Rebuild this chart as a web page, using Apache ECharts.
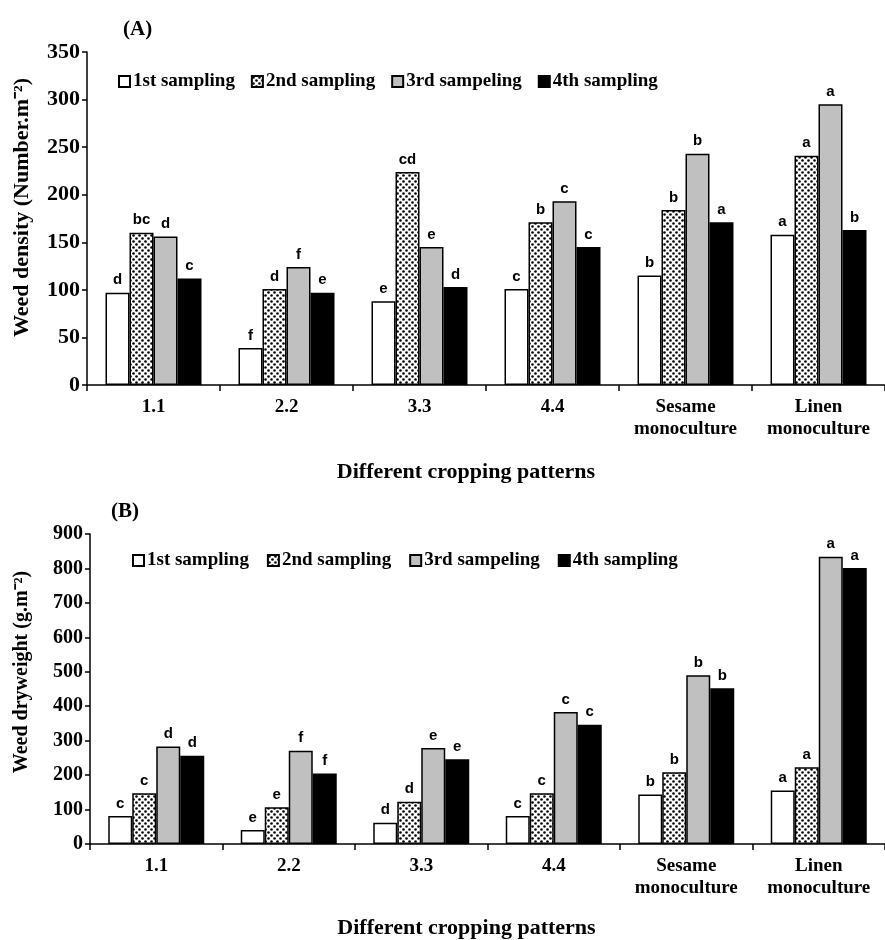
<!DOCTYPE html>
<html>
<head>
<meta charset="utf-8">
<script src="https://cdn.jsdelivr.net/npm/echarts@6/dist/echarts.min.js"></script>
<style>html,body{margin:0;padding:0;background:#fff;}#c{width:885px;height:940px;}</style>
</head>
<body>
<div id="c"></div>
<script>
const categories = ['1.1', '2.2', '3.3', '4.4', 'Sesame\nmonoculture', 'Linen\nmonoculture'];
const seriesNames = ['1st sampling', '2nd sampling', '3rd sampeling', '4th sampling'];

// (A) Weed density
const densityS1 = [97, 39, 88, 101, 115, 158];
const densityS2 = [160, 101, 224, 171, 184, 241];
const densityS3 = [156, 124, 145, 193, 243, 295];
const densityS4 = [112, 97, 103, 145, 171, 163];
const densityL1 = ['d', 'f', 'e', 'c', 'b', 'a'];
const densityL2 = ['bc', 'd', 'cd', 'b', 'b', 'a'];
const densityL3 = ['d', 'f', 'e', 'c', 'b', 'a'];
const densityL4 = ['c', 'e', 'd', 'c', 'a', 'b'];

// (B) Weed dry weight
const dryS1 = [81, 41, 62, 81, 144, 155];
const dryS2 = [147, 107, 123, 147, 208, 223];
const dryS3 = [283, 271, 279, 383, 490, 834];
const dryS4 = [256, 205, 246, 346, 452, 801];
const dryL1 = ['c', 'e', 'd', 'c', 'b', 'a'];
const dryL2 = ['c', 'e', 'd', 'c', 'b', 'a'];
const dryL3 = ['d', 'f', 'e', 'c', 'b', 'a'];
const dryL4 = ['d', 'f', 'e', 'c', 'b', 'a'];

const SERIF = "'Liberation Serif', 'Times New Roman', serif";
const SANS = "'Liberation Sans', Arial, sans-serif";

// dotted pattern for 2nd sampling
const pc = document.createElement('canvas');
pc.width = 6; pc.height = 6;
const g = pc.getContext('2d');
g.fillStyle = '#fff'; g.fillRect(0, 0, 6, 6);
g.fillStyle = '#000';
g.beginPath(); g.arc(1.5, 1.5, 1.3, 0, Math.PI * 2); g.fill();
g.beginPath(); g.arc(4.5, 4.5, 1.3, 0, Math.PI * 2); g.fill();
const dotted = { image: pc, repeat: 'repeat' };

const fills = ['#ffffff', dotted, '#c0c0c0', '#000000'];

function mkSeries(values, letters, idx, axisIdx) {
  return {
    name: seriesNames[idx],
    type: 'bar',
    xAxisIndex: axisIdx, yAxisIndex: axisIdx,
    data: values,
    barWidth: 24,
    barGap: '0%',
    itemStyle: { color: fills[idx], borderColor: '#000', borderWidth: 1.5 },
    label: {
      show: true, position: 'top', distance: 5,
      formatter: p => letters[p.dataIndex],
      fontFamily: SANS, fontWeight: 'bold', fontSize: 15, color: '#000'
    },
    emphasis: { disabled: true },
    animation: false
  };
}

const chart = echarts.init(document.getElementById('c'), null, { renderer: 'canvas' });

const axisLabelX = { fontFamily: SERIF, fontWeight: 'bold', fontSize: 19, color: '#000', margin: 11, lineHeight: 22, interval: 0 };

const legendBase = {
  itemWidth: 11, itemHeight: 11, icon: 'rect',
  textStyle: { fontFamily: SERIF, fontWeight: 'bold', fontSize: 19, color: '#000', padding: [0, 0, 0, -2] },
  data: seriesNames,
  selectedMode: false
};

chart.setOption({
  backgroundColor: '#fff',
  animation: false,
  title: [
    { text: '(A)', left: 118, top: 14, textStyle: { fontFamily: SERIF, fontWeight: 'bold', fontSize: 21, color: '#000' } },
    { text: '(B)', left: 106, top: 496, textStyle: { fontFamily: SERIF, fontWeight: 'bold', fontSize: 21, color: '#000' } }
  ],
  legend: [
    Object.assign({}, legendBase, { left: 113, top: 67, itemGap: 16 }),
    Object.assign({}, legendBase, { left: 127, top: 546, itemGap: 18 })
  ],
  grid: [
    { left: 87, top: 52, width: 801, height: 333 },
    { left: 90, top: 534, width: 804, height: 310 }
  ],
  xAxis: [
    {
      type: 'category', gridIndex: 0, data: categories,
      axisLine: { lineStyle: { color: '#000', width: 1.5 } },
      axisTick: { show: true, length: 6, lineStyle: { color: '#000', width: 1.5 } },
      axisLabel: axisLabelX,
      name: 'Different cropping patterns', nameLocation: 'middle', nameGap: 76,
      nameTextStyle: { fontFamily: SERIF, fontWeight: 'bold', fontSize: 22, color: '#000', padding: [0, 40, 0, 0] }
    },
    {
      type: 'category', gridIndex: 1, data: categories,
      axisLine: { lineStyle: { color: '#000', width: 1.5 } },
      axisTick: { show: true, length: 6, lineStyle: { color: '#000', width: 1.5 } },
      axisLabel: axisLabelX,
      name: 'Different cropping patterns', nameLocation: 'middle', nameGap: 73,
      nameTextStyle: { fontFamily: SERIF, fontWeight: 'bold', fontSize: 22, color: '#000', padding: [0, 42, 0, 0] }
    }
  ],
  yAxis: [
    {
      type: 'value', gridIndex: 0, min: 0, max: 350, interval: 50,
      axisLine: { show: true, lineStyle: { color: '#000', width: 1.5 } },
      axisTick: { show: true, length: 5, lineStyle: { color: '#000', width: 1.5 } },
      splitLine: { show: false },
      axisLabel: { fontFamily: SERIF, fontWeight: 'bold', fontSize: 22, color: '#000', margin: 7 },
      name: 'Weed density (Number.m\u207B\u00B2)', nameLocation: 'middle', nameGap: 54,
      nameTextStyle: { fontFamily: SERIF, fontWeight: 'bold', fontSize: 22, color: '#000', padding: [0, 0, 0, 22] }
    },
    {
      type: 'value', gridIndex: 1, min: 0, max: 900, interval: 100,
      axisLine: { show: true, lineStyle: { color: '#000', width: 1.5 } },
      axisTick: { show: true, length: 5, lineStyle: { color: '#000', width: 1.5 } },
      splitLine: { show: false },
      axisLabel: { fontFamily: SERIF, fontWeight: 'bold', fontSize: 20, color: '#000', margin: 7 },
      name: 'Weed dryweight (g.m\u207B\u00B2)', nameLocation: 'middle', nameGap: 58,
      nameTextStyle: { fontFamily: SERIF, fontWeight: 'bold', fontSize: 20, color: '#000', padding: [0, 0, 0, 34] }
    }
  ],
  series: [
    mkSeries(densityS1, densityL1, 0, 0),
    mkSeries(densityS2, densityL2, 1, 0),
    mkSeries(densityS3, densityL3, 2, 0),
    mkSeries(densityS4, densityL4, 3, 0),
    mkSeries(dryS1, dryL1, 0, 1),
    mkSeries(dryS2, dryL2, 1, 1),
    mkSeries(dryS3, dryL3, 2, 1),
    mkSeries(dryS4, dryL4, 3, 1)
  ]
});
</script>
</body>
</html>
